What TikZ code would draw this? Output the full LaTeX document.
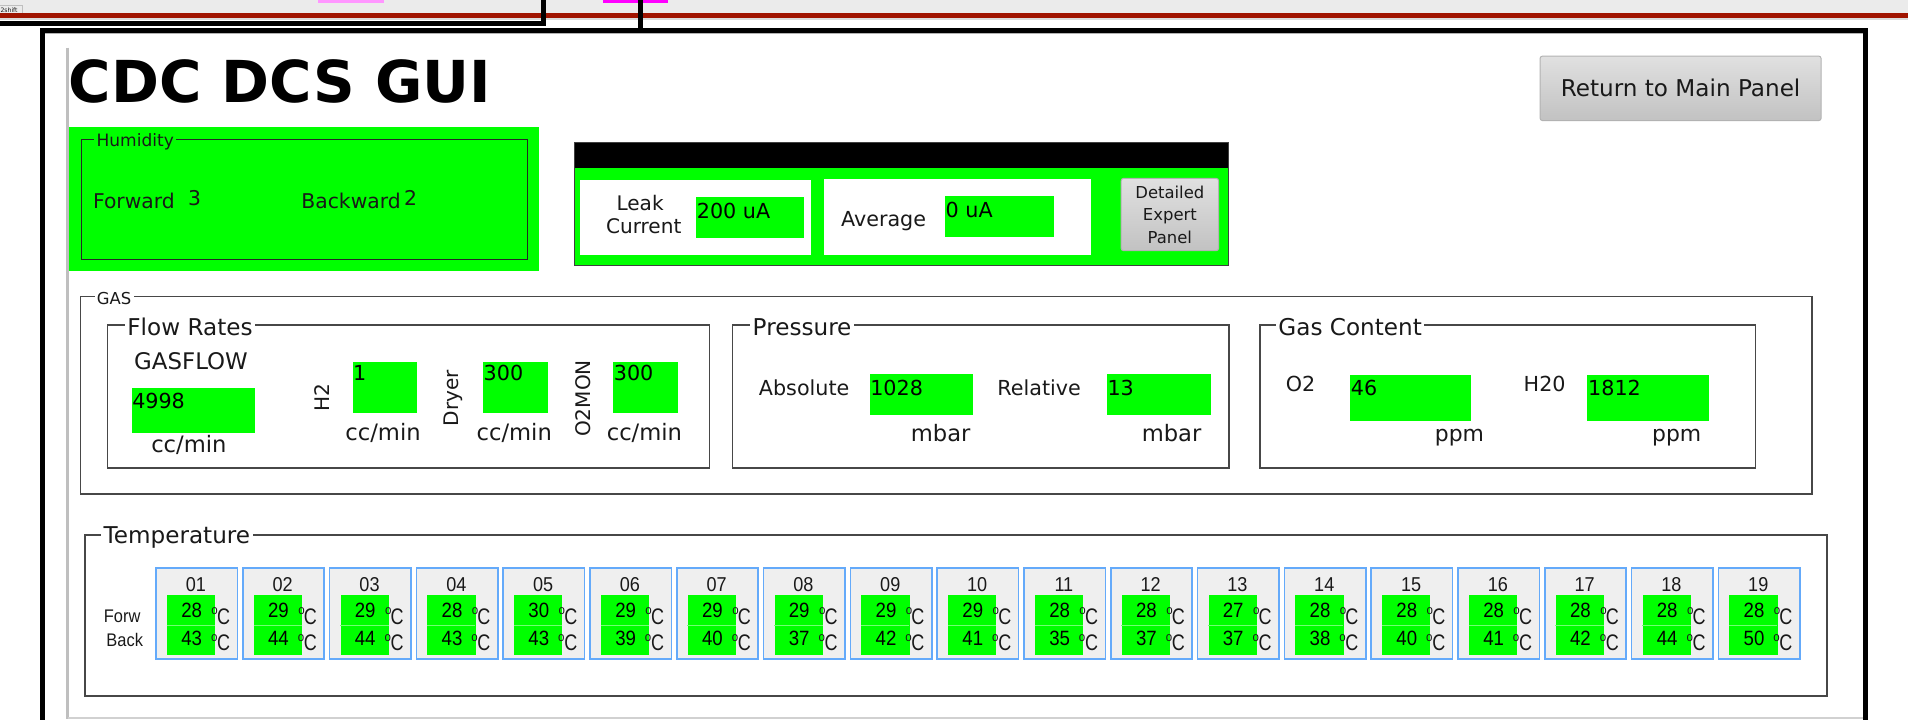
\documentclass[tikz,border=0pt]{standalone}
\usepackage{fontspec}
\setmainfont{DejaVu Sans}
\newfontfamily\cellfont[FakeStretch=0.9]{Liberation Sans}
\newfontfamily\cfont[FakeStretch=0.8]{Liberation Sans}
\definecolor{gg}{RGB}{0,255,0}
\definecolor{cellblue}{RGB}{100,170,250}
\definecolor{cellbg}{RGB}{239,239,239}
\definecolor{barred}{RGB}{160,20,0}
\definecolor{txt}{RGB}{25,25,25}
\definecolor{lpink}{RGB}{255,150,255}
\definecolor{mag}{RGB}{255,0,255}
\newcommand\fsz[1]{\fontsize{#1}{#1}\selectfont}
\begin{document}
\begin{tikzpicture}[x=1pt,y=-1pt,
  every node/.style={inner sep=0pt, text=txt},
  grp/.style={draw=black!72, line width=1pt},
  glbl/.style={anchor=base west, fill=white, inner xsep=2pt, inner ysep=0pt},
  fld/.style={fill=gg, draw=none, anchor=north west},
  btn/.style={draw=black!30, rounded corners=2pt, top color=black!12, bottom color=black!24, line width=0.8pt},
  cellbox/.style={draw=cellblue, fill=cellbg, line width=1.3pt, anchor=north west},
  lbl/.style={anchor=base west, font=\fsz{17}},
  val/.style={anchor=base west, font=\fsz{17}, text=black},
  unit/.style={anchor=base, font=\fsz{18.6}},
  cnum/.style={anchor=base, font=\cellfont\fsz{16.5}},
  cval/.style={anchor=base, font=\cellfont\fsz{17}, text=black},
  cdeg/.style={anchor=base west, font=\cellfont\fsz{10.5}},
  cc/.style={anchor=base west, font=\cfont\fsz{18.5}},
]
\useasboundingbox (0,0) rectangle (1568,591);
% ---------- top strip ----------
\fill[black!8] (0,0) rectangle (1568,11);
\fill[lpink] (261.6,0) rectangle (315.6,2.3);
\fill[mag] (495.3,0) rectangle (549.2,2.5);
\draw[black!25, line width=0.4pt] (0,4.2) -- (18,4.2) -- (18,11);
\node[anchor=west, font=\fsz{5}] (shiftlbl) at (0.3,8.3) {2shift};
\fill[barred] (0,11) rectangle (1568,15.1);
\fill[black!14] (0,15.1) rectangle (1568,16.6);
\draw[line width=3.9pt] (0,19.5) -- (446.6,19.5);
\draw[line width=3.4pt] (446.6,0) -- (446.6,21.4);
\draw[line width=3.7pt] (526.4,0) -- (526.4,27);
% ---------- main frame ----------
\draw[line width=4pt] (35,600) -- (35,25.4) -- (1532.7,25.4) -- (1532.7,600);
\draw[black!30, line width=0.8pt] (37,27.9) -- (1530.7,27.9);
\draw[black!25, line width=2.2pt] (55.6,39.2) -- (55.6,591);
\draw[black!18, line width=1.5pt] (55.6,589.8) -- (1531,589.8);
% ---------- title & button ----------
\node[anchor=base west, font=\bfseries\fsz{47.5}, text=black] (title) at (56.5,84.5) {CDC DCS GUI};
\node[btn, minimum width=231pt, minimum height=53pt, font=\fsz{19}] (ret) at (1381.1,72.6) {Return to Main Panel};
% ---------- humidity ----------
\fill[gg] (56.6,104.6) rectangle (443,222.7);
\draw[black!85, line width=0.9pt] (66.9,115) rectangle (433.4,213);
\node[glbl, fill=gg, font=\fsz{14}] (humlbl) at (77.2,120.5) {Humidity};
\node[lbl, font=\fsz{16.7}] (fwd) at (76.3,171) {Forward};
\node[lbl, font=\fsz{16.7}] (fwdv) at (154.5,169) {3};
\node[lbl, font=\fsz{16.7}] (bwd) at (247.5,171) {Backward};
\node[lbl, font=\fsz{16.7}] (bwdv) at (332,169) {2};
% ---------- leak current ----------
\fill[black] (472,117.3) rectangle (1009.5,138.3);
\fill[gg] (472,138.3) rectangle (1009.5,217.8);
\draw[black!75, line width=0.8pt] (472,117.3) rectangle (1009.5,217.8);
\fill[white] (476.8,148) rectangle (666.5,209.6);
\fill[white] (677.4,147.4) rectangle (896.8,209.6);
\node[anchor=base, font=\fsz{16.5}] (leak1) at (526,172.6) {Leak};
\node[anchor=base, font=\fsz{16.5}] (leak2) at (529,192.3) {Current};
\node[fld, minimum width=88.2pt, minimum height=33.3pt] (leakf) at (572,162) {};
\node[val] (leakv) at (572.5,179.4) {200 uA};
\node[lbl] (avg) at (691,186.5) {Average};
\node[fld, minimum width=89.1pt, minimum height=33.5pt] (avgf) at (776.5,161) {};
\node[val] (avgv) at (777,178.6) {0 uA};
\node[btn, minimum width=80.1pt, minimum height=59.4pt] (expert) at (961.4,176.3) {};
\node[anchor=base, font=\fsz{13.5}] (ex1) at (961.4,163) {Detailed};
\node[anchor=base, font=\fsz{13.5}] (ex2) at (961.4,181.3) {Expert};
\node[anchor=base, font=\fsz{13.5}] (ex3) at (961.4,200) {Panel};
% ---------- GAS ----------
\draw[grp] (66.4,243.8) rectangle (1489,406);
\node[glbl, font=\fsz{13.5}] (gaslbl) at (77.5,250) {GAS};
% Flow rates
\draw[grp] (88.5,267) rectangle (582.8,384.6);
\node[glbl, font=\fsz{19}] (flowlbl) at (102.5,275.5) {Flow Rates};
\node[anchor=base, font=\fsz{18.8}] (gasflow) at (157,304) {GASFLOW};
\node[fld, minimum width=101pt, minimum height=37pt] (gff) at (108,319) {};
\node[val] (gfv) at (108.5,335.6) {4998};
\node[unit] (gfu) at (155.2,371.5) {cc/min};
\node[rotate=90, font=\fsz{16.5}] (h2l) at (265,327) {H2};
\node[fld, minimum width=52.8pt, minimum height=42.5pt] (h2f) at (289.5,297) {};
\node[val] (h2v) at (290,313) {1};
\node[unit] (h2u) at (314.8,361.6) {cc/min};
\node[rotate=90, font=\fsz{16.5}] (dryl) at (372.3,327) {Dryer};
\node[fld, minimum width=53.5pt, minimum height=42.5pt] (dryf) at (396.8,297) {};
\node[val] (dryv) at (397.3,313) {300};
\node[unit] (dryu) at (422.6,361.6) {cc/min};
\node[rotate=90, font=\fsz{16.5}] (o2ml) at (479.5,327.5) {O2MON};
\node[fld, minimum width=53.4pt, minimum height=42.5pt] (o2mf) at (503.8,297) {};
\node[val] (o2mv) at (504.3,313) {300};
\node[unit] (o2mu) at (529.6,361.6) {cc/min};
% Pressure
\draw[grp] (602,267) rectangle (1010,384.6);
\node[glbl, font=\fsz{19}] (preslbl) at (616.4,275.5) {Pressure};
\node[lbl] (absl) at (623.5,324.7) {Absolute};
\node[fld, minimum width=85.1pt, minimum height=33.5pt] (absf) at (714.5,307.5) {};
\node[val] (absv) at (715,324.7) {1028};
\node[unit, anchor=base east] (absu) at (797.7,363) {mbar};
\node[lbl] (rell) at (819.5,324.7) {Relative};
\node[fld, minimum width=85.6pt, minimum height=33.5pt] (relf) at (909.4,307.5) {};
\node[val] (relv) at (910,324.7) {13};
\node[unit, anchor=base east] (relu) at (987.5,363) {mbar};
% Gas content
\draw[grp] (1035.5,267) rectangle (1442.7,384.6);
\node[glbl, font=\fsz{19}] (gclbl) at (1048.4,275.5) {Gas Content};
\node[lbl] (o2l) at (1056.5,322) {O2};
\node[fld, minimum width=99.5pt, minimum height=38.1pt] (o2f) at (1109.3,307.6) {};
\node[val] (o2v) at (1110,324.7) {46};
\node[unit, anchor=base west, font=\fsz{18}] (o2u) at (1179,362.5) {ppm};
\node[lbl] (h2ol) at (1252,322) {H20};
\node[fld, minimum width=99.7pt, minimum height=38.1pt] (h2of) at (1304.3,307.6) {};
\node[val] (h2ov) at (1305,324.7) {1812};
\node[unit, anchor=base west, font=\fsz{18}] (h2ou) at (1357.5,362.5) {ppm};
% ---------- Temperature ----------
\draw[grp] (69.8,439.7) rectangle (1501.5,572);
\node[glbl, font=\fsz{19}] (templbl) at (83,446.5) {Temperature};
\node[anchor=base west, font=\cellfont\fsz{15}] (forw) at (85.2,511.7) {Forw};
\node[anchor=base west, font=\cellfont\fsz{15}] (back) at (87.3,531.5) {Back};
\foreach \lab/\fv/\bv [count=\n from 0] in {01/28/43,02/29/44,03/29/44,04/28/43,05/30/43,06/29/39,07/29/40,08/29/37,09/29/42,10/29/41,11/28/35,12/28/37,13/27/37,14/28/38,15/28/40,16/28/41,17/28/42,18/28/44,19/28/50}{
  \pgfmathsetmacro\cx{127.6+71.33*\n}
  \node[cellbox, minimum width=66.8pt, minimum height=74.8pt] (cell\lab) at (\cx,466.3) {};
  \node[cnum] (num\lab) at ({\cx+33.4},486.3) {\lab};
  \node[fld, minimum width=39.7pt, minimum height=49.3pt] (g\lab) at ({\cx+9.4},489) {};
  \draw[gg!55!white, line width=0.7pt] ({\cx+9.4},513.7) -- ({\cx+49.1},513.7);
  \node[cval] (fv\lab) at ({\cx+29.9},507.5) {\fv};
  \node[cval] (bv\lab) at ({\cx+29.9},530.3) {\bv};
  \node[cdeg] (fo\lab) at ({\cx+46},504.6) {o};
  \node[cc] (fc\lab) at ({\cx+50.6},513.2) {C};
  \node[cdeg] (bo\lab) at ({\cx+45.6},527) {o};
  \node[cc] (bc\lab) at ({\cx+50.6},534.4) {C};
}
\end{tikzpicture}
\end{document}
